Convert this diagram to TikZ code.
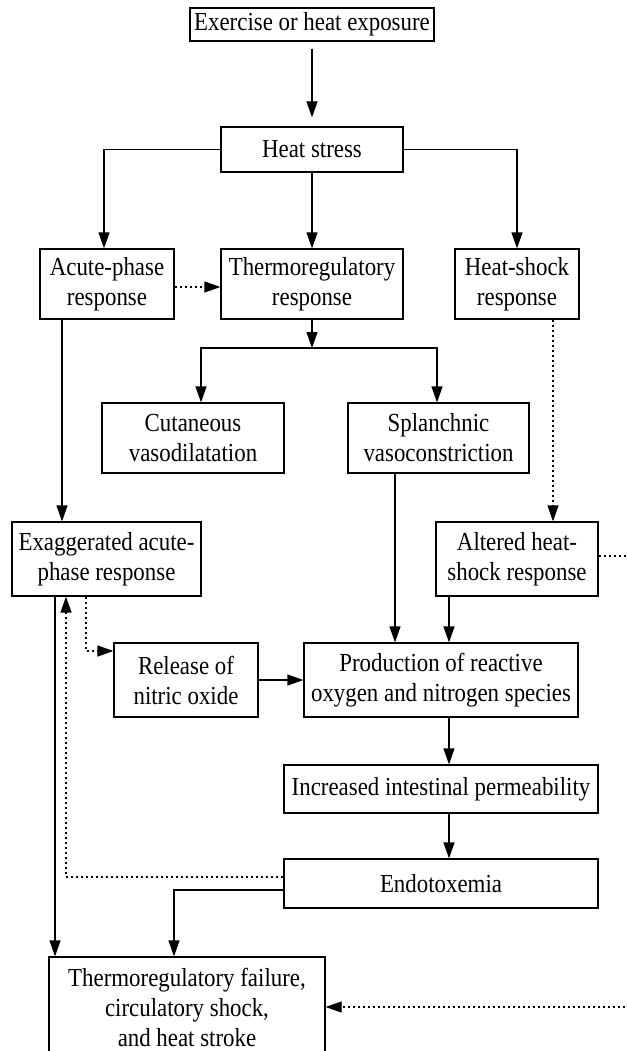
\documentclass[tikz,border=0pt]{standalone}
\usepackage{fontspec}
\setmainfont{Liberation Serif}[FakeStretch=0.88]
\usetikzlibrary{arrows.meta}
\newcommand\boxfont{\fontsize{26pt}{30pt}\selectfont}
\tikzset{
  box/.style={draw, line width=1.2pt, inner sep=0pt, align=center, font=\boxfont},
  arr/.style={line width=1.2pt, -{Triangle[length=16pt,width=11pt]}},
  dots/.style={dash pattern=on 2pt off 3pt},
}
\begin{document}
\begin{tikzpicture}[x=1pt,y=-1pt]
\useasboundingbox (0,0) rectangle (626,1051);
\clip (0,0) rectangle (626,1051);
\node[box, minimum width=244pt, minimum height=33pt] (ex) at (312,24.5) {Exercise or heat exposure};
\node[box, minimum width=182pt, minimum height=45pt] (hs) at (312,149.5) {Heat stress};
\node[box, minimum width=134pt, minimum height=70pt] (acute) at (107,284) {Acute-phase\\response};
\node[box, minimum width=182pt, minimum height=70pt] (thermo) at (312,284) {Thermoregulatory\\response};
\node[box, minimum width=124pt, minimum height=70pt] (hshock) at (517,284) {Heat-shock\\response};
\node[box, minimum width=182pt, minimum height=70pt] (cut) at (193,438) {Cutaneous\\vasodilatation};
\node[box, minimum width=181pt, minimum height=70pt] (spl) at (438.5,438) {Splanchnic\\vasoconstriction};
\node[box, minimum width=189pt, minimum height=74pt] (exag) at (106.5,559) {Exaggerated acute-\\phase response};
\node[box, minimum width=162pt, minimum height=74pt] (alt) at (517,559) {Altered heat-\\shock response};
\node[box, minimum width=144pt, minimum height=74pt] (rel) at (186,680) {Release of\\nitric oxide};
\node[box, minimum width=274pt, minimum height=74pt] (prod) at (441,680) {Production of reactive\\oxygen and nitrogen species};
\node[box, minimum width=314pt, minimum height=48pt] (inc) at (441,789) {Increased intestinal permeability};
\node[box, minimum width=314pt, minimum height=49pt] (endo) at (441,883.5) {Endotoxemia};
\node[box, minimum width=276pt, minimum height=100pt] (fin) at (187,1007) {Thermoregulatory failure,\\circulatory shock,\\and heat stroke};
\coordinate (j) at (312,348);
% connectors
\draw[arr, shorten <=7pt, shorten >=9pt] (ex) -- (hs);
\draw[arr] (hs.west) -| ([xshift=-3pt]acute.north);
\draw[arr] (hs.east) -| (hshock.north);
\draw[arr] (hs) -- (thermo);
\draw[arr, dots] ([yshift=-3pt]acute.east) -- ([yshift=-3pt]thermo.west);
\draw[arr] (thermo) -- (j);
\draw[arr] (j) -| ([xshift=8pt]cut.north);
\draw[arr] (j) -| ([xshift=-1.5pt]spl.north);
\draw[arr] ([xshift=-45pt]acute.south) -- ([xshift=-45pt]acute.south |- exag.north);
\draw[arr, dots] ([xshift=36pt]hshock.south) -- ([xshift=36pt]hshock.south |- alt.north);
\draw[arr] ([xshift=-43.5pt]spl.south) -- ([xshift=-43.5pt]spl.south |- prod.north);
\draw[arr] ([xshift=-68pt]alt.south) -- ([xshift=-68pt]alt.south |- prod.north);
\draw[arr, dots] ([xshift=-20.5pt]exag.south) |- ([yshift=29pt]rel.west);
\draw[arr] (rel) -- (prod);
\draw[arr] ([xshift=8pt]prod.south) -- ([xshift=8pt]prod.south |- inc.north);
\draw[arr] ([xshift=8pt]inc.south) -- ([xshift=8pt]inc.south |- endo.north);
\draw[arr, dots] ([yshift=6.5pt]endo.west) -| ([xshift=-40.5pt]exag.south);
\draw[arr] ([yshift=-6.5pt]endo.west) -| ([xshift=-13pt]fin.north);
\draw[arr] ([xshift=-51.5pt]exag.south) -- ([xshift=-51.5pt]exag.south |- fin.north);
\draw[arr, dots] ([yshift=3pt]alt.east) -- ++(50,0) |- (fin.east);
\end{tikzpicture}
\end{document}
